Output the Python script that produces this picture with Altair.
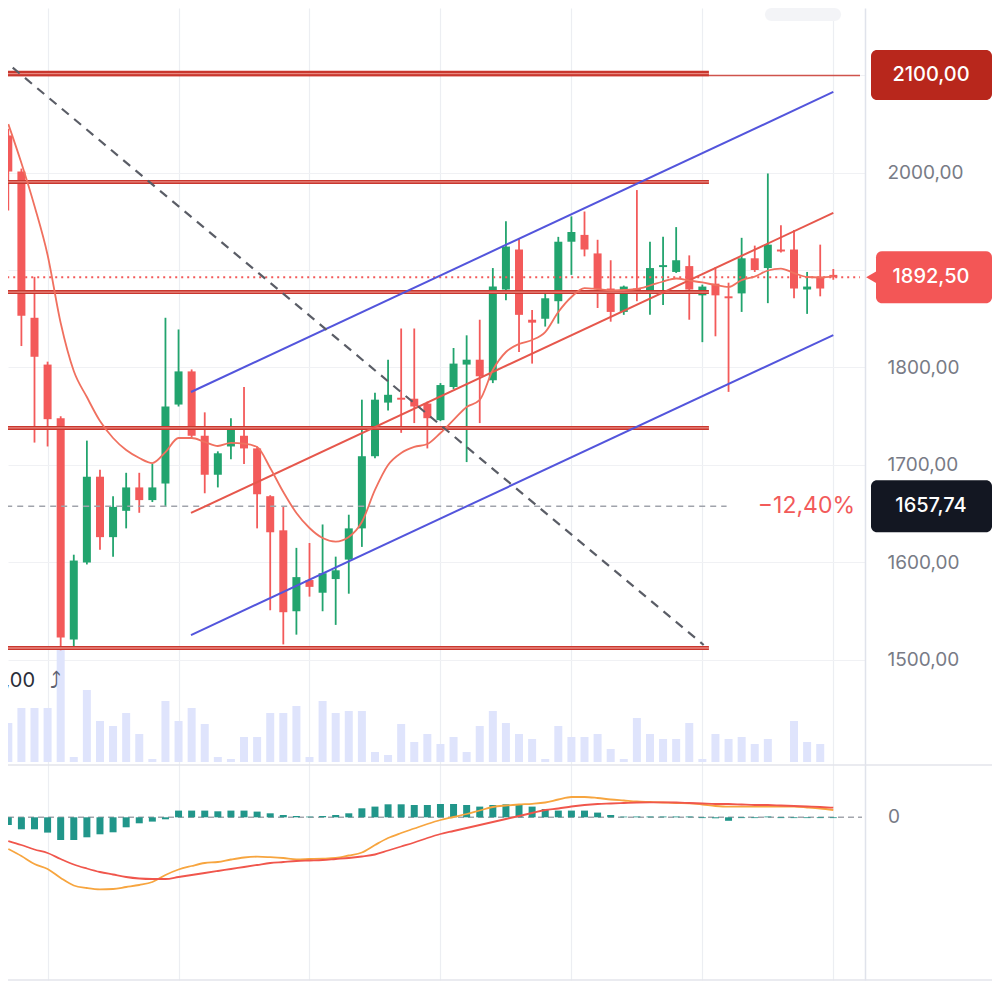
import altair as alt
import pandas as pd

# ---------------- data ----------------
idx = list(range(64))
opens = [2038, 2001, 1851, 1803, 1748, 1521, 1600, 1688, 1626, 1653,
         1677, 1664, 1681, 1762, 1796, 1730, 1690, 1719, 1730, 1717,
         1668, 1633, 1550, 1582, 1569, 1583, 1603, 1635, 1709, 1764,
         1769, 1768, 1763, 1746, 1780, 1803, 1808, 1787, 1880, 1921,
         1849, 1850, 1868, 1929, 1936, 1917, 1881, 1857, 1881, 1878,
         1903, 1898, 1904, 1874, 1886, 1873, 1876, 1912, 1902, 1921,
         1921, 1880, 1893, 1895]
highs = [2045, 2004, 1893, 1806, 1750, 1608, 1725, 1695, 1668, 1692,
         1692, 1701, 1851, 1839, 1798, 1754, 1714, 1748, 1780, 1719,
         1669, 1657, 1615, 1620, 1639, 1606, 1649, 1767, 1774, 1808,
         1840, 1840, 1765, 1784, 1820, 1833, 1849, 1902, 1950, 1932,
         1859, 1876, 1934, 1955, 1960, 1931, 1910, 1884, 1982, 1929,
         1934, 1944, 1915, 1885, 1903, 1887, 1933, 1925, 1999, 1946,
         1941, 1898, 1926, 1901]
lows = [1961, 1822, 1723, 1719, 1510, 1512, 1598, 1613, 1606, 1635,
        1651, 1662, 1657, 1760, 1728, 1671, 1677, 1706, 1701, 1635,
        1551, 1516, 1526, 1565, 1550, 1536, 1568, 1616, 1707, 1756,
        1733, 1743, 1717, 1745, 1778, 1703, 1743, 1784, 1869, 1816,
        1804, 1842, 1845, 1895, 1914, 1861, 1847, 1854, 1868, 1854,
        1864, 1897, 1849, 1826, 1832, 1775, 1857, 1898, 1866, 1918,
        1871, 1855, 1873, 1890]
closes = [2001, 1853, 1811, 1747, 1523, 1602, 1688, 1626, 1657, 1677,
          1664, 1677, 1760, 1796, 1730, 1690, 1712, 1737, 1717, 1670,
          1631, 1549, 1585, 1575, 1589, 1592, 1635, 1709, 1767, 1772,
          1767, 1760, 1748, 1782, 1804, 1808, 1791, 1883, 1924, 1854,
          1846, 1871, 1929, 1939, 1921, 1880, 1857, 1883, 1878, 1902,
          1905, 1910, 1880, 1883, 1874, 1871, 1912, 1900, 1926, 1919,
          1881, 1883, 1881, 1892.5]
ma_vals = [2049.7, 2009.7, 1965.6, 1915.4, 1845.6, 1796.4, 1769.7, 1745.1, 1727.7, 1715.4,
           1707.2, 1702.0, 1713.3, 1727.7, 1727.7, 1723.6, 1719.5, 1722.6, 1722.0, 1718.5,
           1697.0, 1672.3, 1650.8, 1635.4, 1625.1, 1621.5, 1626.2, 1641.5, 1674.4, 1700.0,
           1712.3, 1718.5, 1721.5, 1732.8, 1746.2, 1759.5, 1766.7, 1797.4, 1815.9, 1824.1,
           1828.2, 1836.4, 1856.9, 1872.3, 1881.5, 1880.5, 1879.0, 1879.5, 1880.5, 1884.1,
           1888.2, 1891.3, 1889.2, 1887.2, 1884.6, 1882.6, 1889.7, 1893.3, 1899.5, 1901.5,
           1896.9, 1892.8, 1892.3, 1893.8]
volume = [39, 54, 54, 54, 112, 5, 72, 41, 36, 49,
          28, 3, 61, 41, 54, 38, 5, 3, 25, 25,
          49, 49, 56, 5, 61, 49, 51, 51, 10, 7,
          38, 20, 28, 18, 25, 10, 36, 51, 39, 28,
          23, 3, 36, 25, 25, 28, 13, 3, 44, 28,
          23, 23, 39, 3, 28, 23, 25, 18, 23, 0,
          41, 20, 18, 0]
macd_vals = [-31.7, -38.7, -46.7, -51.7, -60.7, -68.2, -70.7, -72.0, -71.7, -69.7,
             -67.7, -64.7, -57.7, -52.2, -48.7, -45.7, -44.7, -42.2, -40.2, -39.4,
             -39.9, -40.7, -42.0, -41.7, -41.4, -40.7, -38.2, -35.2, -27.7, -20.7,
             -15.7, -11.2, -6.7, -2.7, 0.3, 3.3, 6.8, 10.3, 11.8, 12.8,
             13.5, 14.8, 17.8, 20.3, 20.3, 19.3, 17.8, 16.8, 15.8, 15.3,
             14.8, 14.3, 14.0, 12.8, 11.3, 10.6, 10.6, 10.6, 10.6, 10.6,
             10.6, 9.8, 8.8, 7.3]
signal_vals = [-23.7, -27.7, -32.2, -35.7, -41.7, -47.2, -51.2, -54.7, -57.2, -59.7,
               -61.2, -61.7, -61.7, -59.7, -57.7, -55.7, -53.7, -51.7, -49.7, -47.7,
               -45.7, -44.7, -43.7, -43.2, -42.7, -41.7, -40.7, -39.2, -37.2, -33.2,
               -29.2, -25.2, -20.7, -16.7, -13.7, -10.7, -7.7, -4.7, -1.7, 1.3,
               4.3, 7.3, 8.8, 10.8, 12.3, 13.3, 13.8, 14.3, 14.8, 15.0,
               15.0, 14.8, 14.3, 13.8, 13.3, 13.3, 12.8, 12.3, 12.3, 11.8,
               11.3, 10.8, 10.3, 9.6]
hist_vals = [-7.7, -12, -12, -15.3, -22.7, -22.7, -20, -17, -15, -10,
             -6, -4.3, -2, 6.7, 6.7, 6.7, 6, 6.7, 6.7, 5.7,
             4, 2.3, 1.3, 0.7, 1.3, 2.3, 4, 9, 10.7, 13,
             13, 12.3, 12.3, 13.3, 13.3, 12.3, 10.7, 12.3, 13, 12.3,
             10.7, 8.3, 6.7, 6.7, 6.7, 4.7, 2.3, 0.7, 0.8, 0.8,
             0.8, 0.8, 0.8, -0.8, -1, -3.5, -0.8, -0.8, 0.8, -0.8,
             -0.8, -0.8, -0.8, -0.8]

price_ticks = [1500, 1600, 1700, 1800, 1900, 2000, 2100]
grid_x = [3, 13, 23, 33, 43, 53, 63]
level_prices = [2101.5, 1990.3, 1877.4, 1738.0, 1512.3]
level_widths = [5.5, 4, 4, 4, 4]
level_end = 53.5
alert_price = 2099.5
last_price = 1892.5
ref_price = 1657.74
ref_end = 54.85
pct_label = "\u221212,40%"
low_label = "1510,00"
low_label_price = 1478.5
channel_names = ["upper", "mid", "lower"]
channel_x = [13.95, 63.0]
channel_start = [1774.9, 1650.8, 1525.6]
channel_end = [2082.6, 1958.5, 1833.3]
trend_x = [-0.6, 53.1]
trend_y = [2118.0, 1515.4]
badge_prices = [2100.0, 1892.5, 1657.74]
badge_labels = ["2100,00", "1892,50", "1657,74"]

# ---------------- layout / style ----------------
W, H = 857, 972
X_DOMAIN = [0.3585, 65.038]
P_DOMAIN = [1171.79, 2168.72]
V_DOMAIN = [-218, 754]
M_DOMAIN = [-162.7, 809.3]

GREEN = "#22a46e"
RED = "#f35a5a"
LEVEL = "#c9372e"
LEVEL_IN = "#e98a82"
BLUE = "#5355dc"
MIDRED = "#e6574c"
MA = "#f0705f"
GRID = "#eceef2"
LABEL = "#787b86"
FONT = "Inter"

xs = alt.Scale(domain=X_DOMAIN, nice=False, zero=False)
X_AXIS = alt.Axis(values=grid_x, grid=True, gridColor=GRID, gridWidth=1.2,
                  labels=False, ticks=False, domain=False, title="")
ps = alt.Scale(domain=P_DOMAIN, nice=False, zero=False)
P_AXIS = alt.Axis(orient="right", values=price_ticks, grid=True, gridColor="#f0f1f4",
                  labelExpr="(datum.value == 1900 || datum.value == 2100) ? '' : replace(format(datum.value, '.2f'), '.', ',')",
                  labelColor=LABEL, labelFontSize=19, labelFont=FONT, labelPadding=22,
                  labelAlign="left", labelBaseline="middle", ticks=False,
                  domain=True, domainColor="#e0e3eb", domainWidth=1.5, title="")
vs = alt.Scale(domain=V_DOMAIN, nice=False, zero=False)
ms = alt.Scale(domain=M_DOMAIN, nice=False, zero=False)


def X(f):
    return alt.X(f, type="quantitative", scale=xs, axis=X_AXIS)


def PY(f):
    return alt.Y(f, type="quantitative", scale=ps, axis=P_AXIS)


def VY(f):
    return alt.Y(f, type="quantitative", scale=vs, axis=None)


def MY(f):
    return alt.Y(f, type="quantitative", scale=ms, axis=None)


df = pd.DataFrame(dict(i=idx, open=opens, high=highs, low=lows, close=closes,
                       ma=ma_vals, vol=volume, macd=macd_vals, signal=signal_vals,
                       hist=hist_vals))

# ---------------- volume layer ----------------
sep_df = pd.DataFrame({"y": [-3.0, -218.0]})
separators = alt.Chart(sep_df).mark_rule(color="#e3e5eb", strokeWidth=1.5).encode(
    x=alt.value(-10), x2=alt.value(990), y=VY("y"))
vol_bars = alt.Chart(df).mark_bar(size=8, color="#dfe4fc").encode(
    x=X("i"), y=VY("vol"), y2=alt.datum(0))
corner_df = pd.DataFrame({"y": [754.0], "y2": [741.0]})
corner = alt.Chart(corner_df).mark_rect(color="#f3f4f7", cornerRadius=8).encode(
    x=alt.value(757), x2=alt.value(833), y=VY("y"), y2=alt.Y2("y2"))
vol_layer = alt.layer(separators, corner, vol_bars)

# ---------------- price layer ----------------
candle_color = alt.condition("datum.close >= datum.open", alt.value(GREEN), alt.value(RED))
wicks = alt.Chart(df).mark_rule(strokeWidth=1.8).encode(
    x=X("i"), y=PY("low"), y2=alt.Y2("high"), color=candle_color)
bodies = alt.Chart(df).mark_bar(size=8).encode(
    x=X("i"), y=PY("open"), y2=alt.Y2("close"), color=candle_color)

levels_df = pd.DataFrame({"x": [-1.0] * len(level_prices), "x2": [level_end] * len(level_prices),
                          "y": level_prices, "w": level_widths})
levels_outer = alt.Chart(levels_df).mark_rule(color=LEVEL).encode(
    x=X("x"), x2=alt.X2("x2"), y=PY("y"),
    strokeWidth=alt.StrokeWidth("w:Q", scale=None))
levels_inner = alt.Chart(levels_df).mark_rule(color=LEVEL_IN, strokeWidth=1.3).encode(
    x=X("x"), x2=alt.X2("x2"), y=PY("y"))

alert_df = pd.DataFrame({"x": [-1.0], "x2": [X_DOMAIN[1]], "y": [alert_price]})
alert = alt.Chart(alert_df).mark_rule(color=LEVEL, strokeWidth=1.5, opacity=0.85).encode(
    x=X("x"), x2=alt.X2("x2"), y=PY("y"))

last_df = pd.DataFrame({"x": [-1.0], "x2": [X_DOMAIN[1]], "y": [last_price]})
last_line = alt.Chart(last_df).mark_rule(color=RED, strokeWidth=2, strokeDash=[2, 4]).encode(
    x=X("x"), x2=alt.X2("x2"), y=PY("y"))

ref_df = pd.DataFrame({"x": [-1.0], "x2": [ref_end], "y": [ref_price]})
ref_line = alt.Chart(ref_df).mark_rule(color="#a0a3ab", strokeWidth=1.5, strokeDash=[6, 5]).encode(
    x=X("x"), x2=alt.X2("x2"), y=PY("y"))

chan_df = pd.DataFrame({"name": channel_names, "x": [channel_x[0]] * 3, "x2": [channel_x[1]] * 3,
                        "y": channel_start, "y2": channel_end})
channels = alt.Chart(chan_df).mark_rule(strokeWidth=2).encode(
    x=X("x"), x2=alt.X2("x2"), y=PY("y"), y2=alt.Y2("y2"),
    color=alt.Color("name:N", scale=alt.Scale(domain=channel_names, range=[BLUE, MIDRED, BLUE]),
                    legend=None))

ma_line = alt.Chart(df).mark_line(color=MA, strokeWidth=1.8, interpolate="monotone").encode(
    x=X("i"), y=PY("ma"))

trend_df = pd.DataFrame({"x": [trend_x[0]], "x2": [trend_x[1]], "y": [trend_y[0]], "y2": [trend_y[1]]})
trend = alt.Chart(trend_df).mark_rule(color="#5a5d66", strokeWidth=2.2, strokeDash=[9, 7]).encode(
    x=X("x"), x2=alt.X2("x2"), y=PY("y"), y2=alt.Y2("y2"))

b_df = pd.DataFrame({"price": badge_prices, "label": badge_labels})
badge_2100 = alt.Chart(b_df.iloc[[0]]).mark_rect(cornerRadius=6, yOffset=-25, y2Offset=25,
                                                 color="#b8271c").encode(
    x=alt.value(863), x2=alt.value(984), y=PY("price"), y2=alt.Y2("price"))
badge_last = alt.Chart(b_df.iloc[[1]]).mark_rect(cornerRadius=6, yOffset=-26, y2Offset=26,
                                                 color="#f35656").encode(
    x=alt.value(868), x2=alt.value(984), y=PY("price"), y2=alt.Y2("price"))
badge_last_tip = alt.Chart(b_df.iloc[[1]]).mark_point(shape="triangle-left", filled=True, size=420,
                                                      opacity=1, color="#f35656").encode(
    x=alt.value(867), y=PY("price"))
badge_ref = alt.Chart(b_df.iloc[[2]]).mark_rect(cornerRadius=6, yOffset=-26, y2Offset=26,
                                                color="#131722").encode(
    x=alt.value(863), x2=alt.value(984), y=PY("price"), y2=alt.Y2("price"))
badge_text = alt.Chart(b_df).mark_text(color="white", fontSize=20, font=FONT, fontWeight=500,
                                       align="center", baseline="middle").encode(
    x=alt.value(923), y=PY("price"), text="label:N")

pct_df = pd.DataFrame({"y": [ref_price], "t": [pct_label]})
pct_text = alt.Chart(pct_df).mark_text(color="#f25a5a", fontSize=23, font=FONT, align="right",
                                       baseline="middle").encode(
    x=alt.value(847), y=PY("y"), text="t:N")

low_df = pd.DataFrame({"y": [low_label_price], "t": [low_label], "a": ["\u2934"]})
low_text = alt.Chart(low_df).mark_text(color="#2a2e39", fontSize=20, font=FONT, align="right",
                                       baseline="middle").encode(
    x=alt.value(27), y=PY("y"), text="t:N")
low_arrow = alt.Chart(low_df).mark_text(color="#5d6170", fontSize=22, font="DejaVu Sans",
                                        align="center", baseline="middle").encode(
    x=alt.value(47), y=PY("y"), text="a:N")

price_layer = alt.layer(wicks, bodies, levels_outer, levels_inner, alert, last_line, ref_line,
                        channels, ma_line, trend, badge_2100, badge_last_tip, badge_last,
                        badge_ref, badge_text, pct_text, low_text, low_arrow)

# ---------------- MACD layer ----------------
zero_df = pd.DataFrame({"y": [0.0], "t": ["0"]})
zero_rule = alt.Chart(zero_df).mark_rule(color="#a3a6ad", strokeWidth=1.5, strokeDash=[6, 4]).encode(
    x=alt.value(-10), x2=alt.value(W - 3), y=MY("y"))
hist_bars = alt.Chart(df).mark_bar(size=7, color="#21968a").encode(
    x=X("i"), y=MY("hist"), y2=alt.datum(0))
macd_line = alt.Chart(df).mark_line(color="#f7a53f", strokeWidth=1.8, interpolate="monotone").encode(
    x=X("i"), y=MY("macd"))
signal_line = alt.Chart(df).mark_line(color="#f0564c", strokeWidth=1.8, interpolate="monotone").encode(
    x=X("i"), y=MY("signal"))
zero_text = alt.Chart(zero_df).mark_text(color=LABEL, fontSize=19, font=FONT, align="left",
                                         baseline="middle").encode(
    x=alt.value(880), y=MY("y"), text="t:N")
macd_layer = alt.layer(zero_rule, hist_bars, macd_line, signal_line, zero_text)

chart = alt.layer(vol_layer, price_layer, macd_layer).resolve_scale(y="independent").properties(
    width=W, height=H,
    autosize=alt.AutoSizeParams(type="none"),
    padding={"left": 0, "top": 0, "right": 127, "bottom": 12},
    background="white",
).configure_view(strokeWidth=0)

chart.save("out.html", embed_options={"renderer": "svg", "actions": False})
